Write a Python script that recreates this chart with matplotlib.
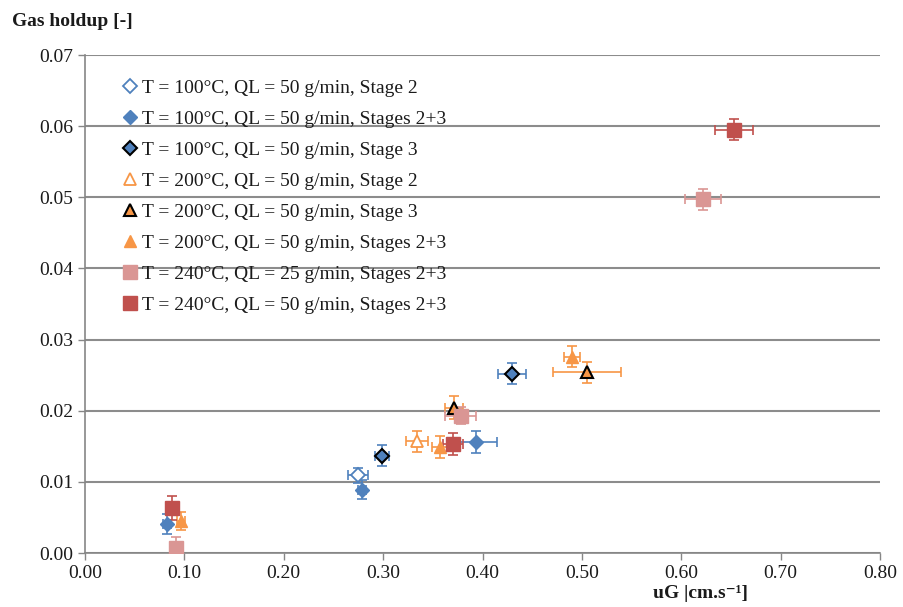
import matplotlib
matplotlib.use("Agg")
import matplotlib.pyplot as plt

plt.rcParams['font.family'] = ['Liberation Serif', 'DejaVu Serif']

# ---- data ----
labels = [
    "T = 100°C, QL = 50 g/min, Stage 2",
    "T = 100°C, QL = 50 g/min, Stages 2+3",
    "T = 100°C, QL = 50 g/min, Stage 3",
    "T = 200°C, QL = 50 g/min, Stage 2",
    "T = 200°C, QL = 50 g/min, Stage 3",
    "T = 200°C, QL = 50 g/min, Stages 2+3",
    "T = 240°C, QL = 25 g/min, Stages 2+3",
    "T = 240°C, QL = 50 g/min, Stages 2+3",
]

x_s1 = [0.275];                 y_s1 = [0.0109]
xe_s1 = [0.010];                ye_s1 = [0.0011]

x_s2 = [0.0825, 0.279, 0.393];  y_s2 = [0.0041, 0.0089, 0.0156]
xe_s2 = [0.004, 0.004, 0.022];  ye_s2 = [0.0014, 0.0013, 0.0015]

x_s3 = [0.299, 0.430];          y_s3 = [0.0137, 0.0252]
xe_s3 = [0.007, 0.014];         ye_s3 = [0.0015, 0.0015]

x_s4 = [0.334];                 y_s4 = [0.0157]
xe_s4 = [0.011];                ye_s4 = [0.0015]

x_s5 = [0.371, 0.505];          y_s5 = [0.0204, 0.0254]
xe_s5 = [0.009, 0.034];         ye_s5 = [0.0016, 0.0015]

x_s6 = [0.097, 0.357, 0.490];   y_s6 = [0.0045, 0.0149, 0.0276]
xe_s6 = [0.004, 0.008, 0.008];  ye_s6 = [0.0012, 0.0015, 0.0015]

x_s7 = [0.092, 0.378, 0.622];   y_s7 = [0.0007, 0.0193, 0.0497]
xe_s7 = [0.004, 0.0155, 0.0185]; ye_s7 = [0.0016, 0.0012, 0.0015]

x_s8 = [0.088, 0.370, 0.653];   y_s8 = [0.0063, 0.0153, 0.0595]
xe_s8 = [0.004, 0.010, 0.019];  ye_s8 = [0.0017, 0.0015, 0.0015]

xticks = [0.0, 0.1, 0.2, 0.3, 0.4, 0.5, 0.6, 0.7, 0.8]
yticks = [0.0, 0.01, 0.02, 0.03, 0.04, 0.05, 0.06, 0.07]

blue = "#4F81BD"
orange = "#F79646"
pink = "#DA9694"
red = "#C0504D"

series = [
    (x_s1, y_s1, xe_s1, ye_s1, dict(marker='D', mfc='white', mec=blue, ms=7, mew=1.3), blue),
    (x_s2, y_s2, xe_s2, ye_s2, dict(marker='D', mfc=blue, mec=blue, ms=7.5, mew=1), blue),
    (x_s3, y_s3, xe_s3, ye_s3, dict(marker='D', mfc=blue, mec='black', ms=7.5, mew=1.5), blue),
    (x_s4, y_s4, xe_s4, ye_s4, dict(marker='^', mfc='white', mec=orange, ms=9, mew=1.3), orange),
    (x_s5, y_s5, xe_s5, ye_s5, dict(marker='^', mfc=orange, mec='black', ms=9, mew=1.5), orange),
    (x_s6, y_s6, xe_s6, ye_s6, dict(marker='^', mfc=orange, mec=orange, ms=9, mew=1), orange),
    (x_s7, y_s7, xe_s7, ye_s7, dict(marker='s', mfc=pink, mec=pink, ms=10, mew=1), pink),
    (x_s8, y_s8, xe_s8, ye_s8, dict(marker='s', mfc=red, mec=red, ms=10, mew=1), red),
]

fig = plt.figure(figsize=(9.04, 6.07), dpi=100)
ax = fig.add_axes([85/904, 1-553/607, 795/904, 498/607])

handles = []
for (xs, ys, xe, ye, mk, col), lab in zip(series, labels):
    ax.errorbar(xs, ys, xerr=xe, yerr=ye, fmt='none', ecolor=col,
                elinewidth=1.2, capsize=3.5, capthick=1.2, zorder=3)
    h, = ax.plot(xs, ys, linestyle='none', label=lab, zorder=4, **mk)
    handles.append(h)

ax.set_xlim(0, 0.8)
ax.set_ylim(0, 0.07)
ax.set_xticks(xticks)
ax.set_yticks(yticks)
ax.set_xticklabels([f"{v:.2f}" for v in xticks])
ax.set_yticklabels([f"{v:.2f}" for v in yticks])
ax.tick_params(axis='both', direction='out', length=5, color='#868686',
               labelsize=14, labelcolor='#1a1a1a', width=1)
ax.grid(axis='y', color='#8c8c8c', linewidth=1.5, zorder=0)
ax.set_axisbelow(True)
for s in ['top', 'right']:
    ax.spines[s].set_visible(False)
for s in ['left', 'bottom']:
    ax.spines[s].set_color('#868686')
    ax.spines[s].set_linewidth(1.2)

leg = ax.legend(handles=handles, loc='upper left', bbox_to_anchor=(0.04, 0.967),
                frameon=False, fontsize=14, handlelength=0.6, handletextpad=0.3,
                labelspacing=0.69, borderaxespad=0)
for t in leg.get_texts():
    t.set_color('#1a1a1a')

fig.text(12/904, 1-22/607, "Gas holdup [-]", fontsize=14, fontweight='bold',
         ha='left', va='center', color='#1a1a1a')
fig.text(701/904, 1-594/607, "uG |cm.s\u207b\u00b9]", fontsize=14, fontweight='bold',
         ha='center', va='center', color='#1a1a1a')

fig.savefig("out.png", dpi=100)
